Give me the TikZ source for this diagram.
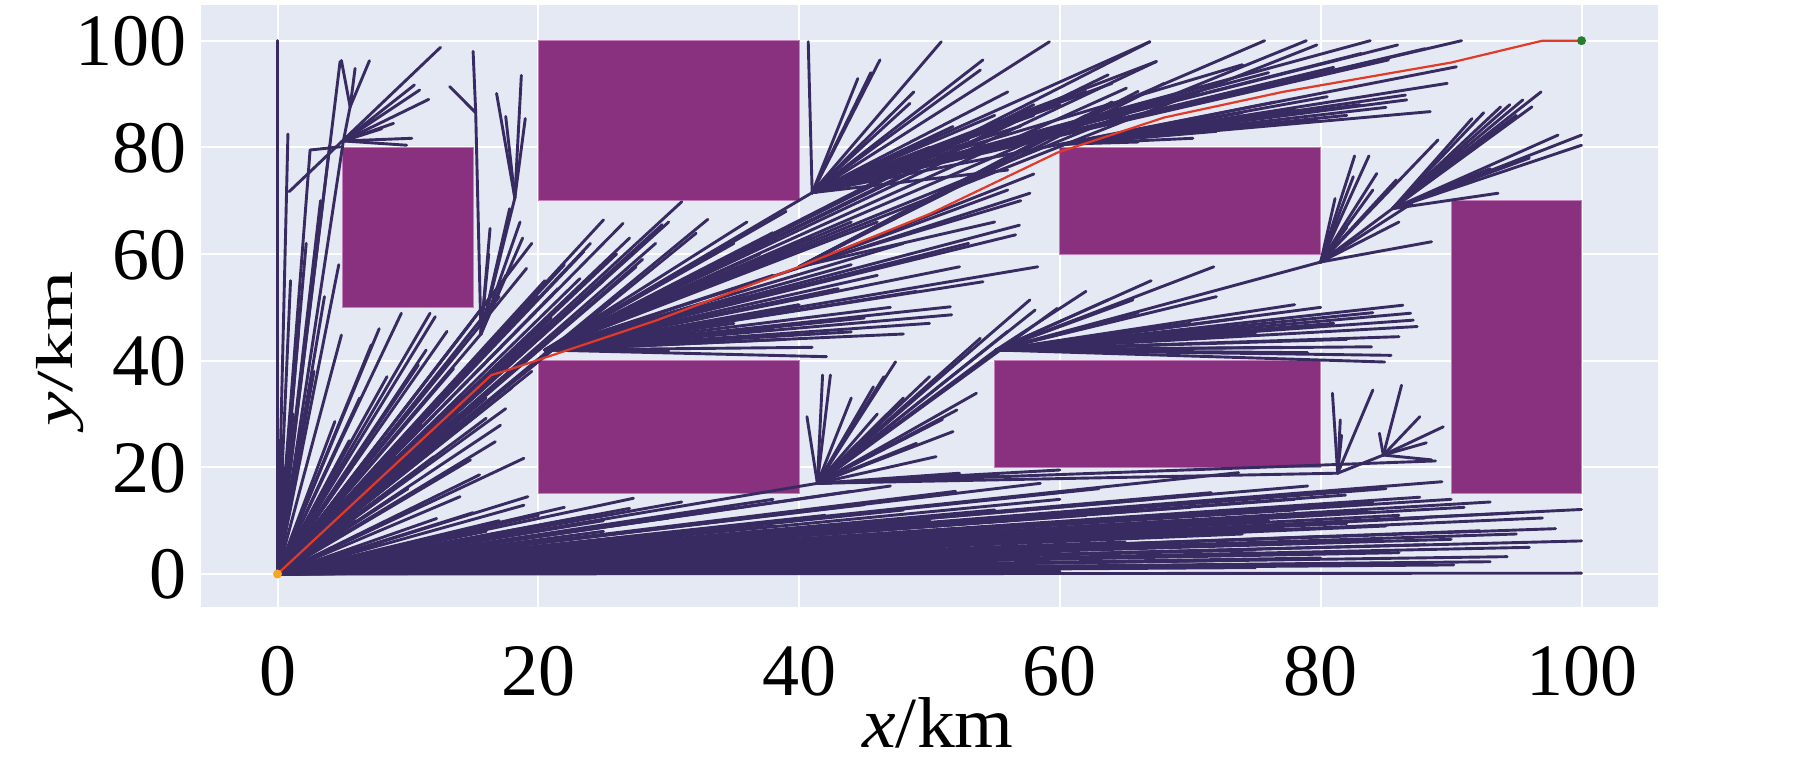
\documentclass[tikz,border=0pt]{standalone}
\usepackage{fontspec}
\setmainfont{Liberation Serif}
\definecolor{bgc}{RGB}{229,233,243}
\definecolor{obs}{RGB}{137,49,126}
\definecolor{obsedge}{RGB}{196,128,186}
\definecolor{treec}{RGB}{56,43,98}
\definecolor{pathc}{RGB}{226,58,40}
\definecolor{startc}{RGB}{245,165,40}
\definecolor{goalc}{RGB}{40,125,45}
\tikzset{
  tree/.style={draw=treec,line width=2.9pt,line cap=round},
  gridln/.style={draw=white,line width=2pt},
  obstacle/.style={fill=obs,draw=obsedge,line width=1pt},
  pathln/.style={draw=pathc,line width=2.2pt,line join=round},
  ticklab/.style={inner sep=0pt,font=\fontsize{74}{80}\selectfont},
  axlab/.style={inner sep=0pt}
}
\newcommand\fanout[2]{\foreach \p in {#2} {\draw[tree] (#1) -- \p;}}
\begin{document}
\begin{tikzpicture}[x=1pt,y=1pt]
\useasboundingbox (0,0) rectangle (1819,762);
\fill[white] (0,0) rectangle (1819,762);
\begin{scope}[shift={(277.5pt,188pt)},x=13.04pt,y=5.333pt]
\fill[bgc] (-5.85,-6.2) rectangle (105.85,106.6);
\foreach \v in {0,20,...,100} {
  \draw[gridln] (\v,-6.2) -- (\v,106.6);
  \draw[gridln] (-5.85,\v) -- (105.85,\v);
}
% obstacles
\path[obstacle] (5,50) rectangle (15,80);
\path[obstacle] (20,70) rectangle (40,100);
\path[obstacle] (20,15) rectangle (40,40);
\path[obstacle] (60,60) rectangle (80,80);
\path[obstacle] (55,20) rectangle (80,40);
\path[obstacle] (90,15) rectangle (100,70);
% hubs
\coordinate (O) at (0,0);
\coordinate (HL) at (5.05,81.2);
\coordinate (HLb) at (5.57,87.6);
\coordinate (HC) at (15.6,45);
\coordinate (HCt) at (15.2,86.5);
\coordinate (HCr) at (18.2,70.5);
\coordinate (H1) at (17.5,38.1);
\coordinate (H1b) at (20.5,42);
\coordinate (R3) at (40,57.6);
\coordinate (H2) at (41,71.5);
\coordinate (H8) at (60.3,80.6);
\coordinate (H7) at (41.4,17);
\coordinate (H3) at (55.1,42);
\coordinate (H4) at (80,58.5);
\coordinate (H4b) at (85.5,68.5);
\coordinate (H5) at (81.3,18.9);
\coordinate (H6) at (84.8,22.3);
\coordinate (HA) at (0.9,71.7);
\coordinate (HB) at (2.5,79.5);
% low fan from origin
\fanout{O}{(100,12.1),(94.5,11.4),(92.2,8.1),(100,6.2),(94.3,3.25),(93,2.3),(90.2,1.7),(100,0.15),(89.3,17.3),(87.6,14.4),(81.9,14.8),(83.6,11.7),(73.7,19),(71.6,15.25),(88,10.5),(85,9),(80,7),(78,12),(76,10),(70,12.5),(68,9),(65,6),(62,11),(60,14),(58,8),(55,12),(52,15.5),(50,10),(48,7),(45,13),(44,15.5),(42,11),(38,9),(35,12.5),(33,8),(30,10.5),(28,6),(25,8),(22,5),(20,9),(96,5),(98,8.5),(86,4),(84,6.2),(75,4.5),(72,2.5),(66,3.2),(62,1.5),(57,4),(54,2.2),(50,3),(46,4.8),(40,2),(36,3.5),(32,1),(90,14),(85,16),(79,16.5),(67,14),(63,16),(58.5,17),(47,16.5),(95,7.5),(88,5.5),(70,6),(60,4),(80,3),(91,12.5),(86,11),(77,8.5),(69,10),(64,8),(53,6),(43,5),(38,14),(31,13.5),(24,11),(60,0.5),(45,1),(35,0.7),(75,1.2),(85,2),(55,1.5),(30,2.5),(26,3.5),(20,2),(42,3.2),(82,9.5),(74,7.5),(66,12),(56,10),(48,12),(40,6.5),(36,10.5),(90,6.5),(97,10.5),(93,13.5),(78,14),(84,13.5),(52,8.5),(H7)}
% steep and middle fans from origin
\fanout{O}{(0,100),(0.8,82.5),(HB),(4.0,80.3),(HL),(4.8,96.1),(4.7,58),(4.9,44.8),(4.4,28.6),(2.2,62),(1.6,45),(3.3,70),(1.2,30),(2.8,38),(3.6,52),(0.5,20),(1,55),(7.2,43),(8.4,37),(9.5,48.9),(10.8,39.2),(11.7,48.9),(12.1,48.25),(13,45.5),(11.4,42),(6.3,33),(7.8,46),(5.5,25),(HC),(18.2,57.9),(19.1,57.3),(17,52),(14.8,47),(19.5,62),(25,66.4),(26.5,65.75),(31,69.8),(32.1,63.9),(27.5,57.6),(23.2,55.4),(20,52),(22,58),(24,62),(29,62),(30,66),(21,48),(25,55),(28,59),(33,66.5),(20.5,55),(27,63),(23.5,60.5),(21.5,53.5),(29.5,65.5),(26,60),(16,29.2),(17.1,27.9),(16.7,24.8),(18.9,21.7),(15.5,18.6),(14.8,21.4),(12.2,10.4),(14,14.5),(19.2,14.5),(18.9,12.9),(27.3,14.2),(27,12.3),(13,26),(14,30),(12,22),(10,16),(16,33),(15,35),(16.4,37.3),(14,36.5),(13.5,38.5),(12.5,33.5),(11,28),(9,22),(8,18),(17.5,31),(18,35),(19.5,38),(16,8),(10,5),(20,11),(22,12.5),(15,11.5),(17,10),(25,10),(8,6),(6,10),(5,14)}
% top-left cluster
\draw[tree] (HA) -- (12.5,98.75);
\draw[tree] (HB) -- (4.8,80.1);
\fanout{HL}{(10.5,91.7),(10.9,90.75),(8.9,84.5),(10.3,81.7),(9.9,80.4),(HLb),(11.6,89),(8,83.5)}
\fanout{HLb}{(5.95,94.8),(7.05,96.25),(4.9,96.3)}
% columns right of first obstacle
\fanout{HC}{(HCt),(HCr),(16.3,64.8),(18.6,66),(17.8,68.5),(16.2,60),(17.3,62.5),(17.5,56),(18.8,63)}
\fanout{HCt}{(15.0,98),(13.2,91.4)}
\fanout{HCr}{(16.8,90.1),(17.5,85.8),(18.7,93.5),(19.0,85.4)}
% middle cluster
\fanout{H1b}{(42.1,40.75),(44,45.4),(51.6,50.1),(51.7,48.6),(54.1,54.8),(47,50),(49,53),(36,52),(30,48),(32,44.5),(26,46),(35,47),(40,50.5),(43,53.5),(46,56),(39,44),(45,48),(33,50),(38,46),(41,42.5),(50,47),(48,45),(27,43.5),(30,41.8),(52.3,57.6),(58.3,57.6),(56.6,63.6),(56.9,65.4),(57.7,71.4),(38,56),(44,58),(48,62),(46,66),(50,60),(53,62),(37,60),(41,63),(44,66),(H2),(39,68),(36,66),(38,64),(35,62),(75.7,100),(78.9,100),(79.7,99.2),(66.9,99.8),(67.4,96.1),(63.7,93.6),(65.1,91.1),(61,90),(58,88)}
\fanout{R3}{(60,83),(62,86),(64,88.5),(66,90.5),(68,92),(58,75),(57,70),(55,66),(56,72)}
\fanout{H2}{(40.7,99.8),(44.5,92.9),(46.2,96.4),(45.5,94),(50.9,99.8),(54.1,96.4),(53.9,94.5),(48.8,90.4),(48.5,88.25),(59.2,99.8),(56,90.4),(51.8,83.9),(56,75.75),(66.9,99.8),(67.4,96.1),(83.8,100),(85.9,99.2),(90.8,100),(90.4,95.1),(83.1,97.6),(85.2,96.4),(72,92),(76,94),(81,95),(70,90),(60,88),(57,84),(62,90.5),(55,86),(50,80),(53,81.5),(58,86),(64,92),(74,95.5),(88,98.5)}
\fanout{H8}{(79.7,85.1),(70.2,81.7),(88.4,86.7),(86.6,88.9),(86.5,89.8),(83,88),(75,84),(72,83),(85,87.5),(66,81),(89.7,92),(78,87),(82,86),(74,86.5),(80.5,89.5),(76.5,88.5)}
% lower middle
\fanout{H7}{(41.8,37.3),(42.4,37.3),(40.6,29.5),(47.4,39.8),(46.5,37),(45.7,35.1),(53.6,33.9),(51.8,26.7),(52.1,30.75),(51,29),(48,33),(52.3,18.9),(55.3,18.6),(57.7,51.4),(58.1,49.5),(59.8,49.8),(53.9,44.2),(H3),(56,45.5),(50,37),(44,33),(46,30),(H5),(88.8,21.2),(60,19.5),(50.5,22),(49,24.5)}
\fanout{H3}{(87.4,46.4),(87.1,47.6),(86.9,48.9),(86.3,50.4),(83.9,42.6),(85.4,41),(84.9,39.75),(65.6,51.4),(63.7,51.4),(72,52),(78,50.5),(80,50),(70,47),(75,45),(82,44),(86,44.5),(77,42.5),(79,41.5),(60,45),(68,43),(74,48),(81,47),(84,49),(66,49),(71.8,57.6),(H4),(67,55),(62,53)}
\fanout{H4}{(82.6,78.4),(83.7,78.4),(84.3,75.1),(85.8,73.9),(81.1,70.4),(89,81.4),(88.5,62.3),(H4b),(82,65),(86,66),(87,69.5),(84,72),(82.5,74.5)}
\fanout{H4b}{(93.6,71.4),(91.6,85.4),(93.8,87.6),(95.5,88.9),(96.9,90.4),(96.2,87.6),(94.5,88),(92.5,86.5),(95,86),(98.2,82.3),(100,82.3),(100,80.4),(96,78),(93,76)}
\fanout{H5}{(80.9,33.9),(81.5,28.9),(84,34.5),(81.6,26),(H6)}
\fanout{H6}{(86.2,35.4),(87.6,29.5),(89.4,27.6),(88.1,24.6),(84.5,26.4),(88.5,21.4)}
% path
\draw[pathln] (0,0) -- (16.4,37.3) -- (17.5,38.1) -- (29,47.5) -- (40,57.6) -- (50,67.5) -- (59.8,79) -- (68,85.6) -- (77.1,90.4) -- (90,95.9) -- (97,100) -- (100,100);
\fill[startc] (O) circle[radius=4.5pt];
\fill[goalc] (100,100) circle[radius=4.5pt];
\end{scope}
% tick labels
\foreach \v in {0,20,...,100} {
  \node[ticklab,anchor=base east] at (186.7,{188+5.333*\v-25}) {\v};
  \node[ticklab,anchor=base] at ({277.5+13.04*\v},66) {\v};
}
\node[axlab,anchor=base,font=\fontsize{72}{80}\selectfont] at (938,14) {\scalebox{1.05}[1]{\textit{x}/km}};
\node[axlab,rotate=90,anchor=base,font=\fontsize{52}{60}\selectfont] at (72,413) {\scalebox{1.49}[1]{\textit{y}/km}};
\end{tikzpicture}
\end{document}
